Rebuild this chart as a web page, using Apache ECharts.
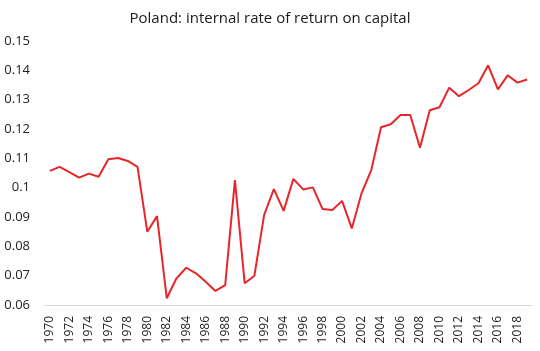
<!DOCTYPE html>
<html>
<head>
<meta charset="utf-8">
<script src="https://cdn.jsdelivr.net/npm/echarts@6/dist/echarts.min.js"></script>
<style>
  html, body { margin: 0; padding: 0; background: #fff; }
  #chart { width: 540px; height: 351px; }
</style>
</head>
<body>
<div id="chart"></div>
<script>
// years on the x axis
const years = [];
for (let y = 1970; y <= 2019; y++) years.push(String(y));

// internal rate of return on capital
const irr = [
  0.1057, 0.1071, 0.1053, 0.1034, 0.1048, 0.1037, 0.1097, 0.1101, 0.1091, 0.1071,
  0.0850, 0.0903, 0.0623, 0.0691, 0.0727, 0.0708, 0.0679, 0.0648, 0.0668, 0.1026,
  0.0674, 0.0700, 0.0907, 0.0995, 0.0921, 0.1030, 0.0994, 0.1001, 0.0927, 0.0924,
  0.0955, 0.0861, 0.0981, 0.1060, 0.1206, 0.1216, 0.1248, 0.1248, 0.1136, 0.1264,
  0.1274, 0.1341, 0.1312, 0.1333, 0.1356, 0.1417, 0.1335, 0.1383, 0.1358, 0.1369
];

const chart = echarts.init(document.getElementById('chart'));

const option = {
  animation: false,
  title: {
    text: 'Poland: internal rate of return on capital',
    left: 'center',
    top: 6,
    textStyle: {
      fontFamily: 'Open Sans',
      fontSize: 15,
      fontWeight: 'normal',
      color: '#1a1a1a'
    }
  },
  grid: {
    left: 45,
    right: 8,
    top: 41,
    bottom: 46
  },
  xAxis: {
    type: 'category',
    data: years,
    boundaryGap: true,
    axisLine: { lineStyle: { color: '#d9d9d9' } },
    axisTick: { show: false },
    axisLabel: {
      interval: 1,
      rotate: 90,
      margin: 11,
      fontFamily: 'Open Sans',
      fontSize: 12,
      color: '#222'
    }
  },
  yAxis: {
    type: 'value',
    min: 0.06,
    max: 0.15,
    interval: 0.01,
    splitLine: { show: false },
    axisLine: { show: false },
    axisTick: { show: false },
    axisLabel: {
      margin: 15,
      fontFamily: 'Open Sans',
      fontSize: 13,
      color: '#222',
      formatter: v => String(parseFloat(v.toFixed(2)))
    }
  },
  series: [
    {
      name: 'IRR',
      type: 'line',
      data: irr,
      showSymbol: false,
      lineStyle: { color: '#e8262a', width: 2 }
    }
  ]
};

chart.setOption(option);
</script>
</body>
</html>
